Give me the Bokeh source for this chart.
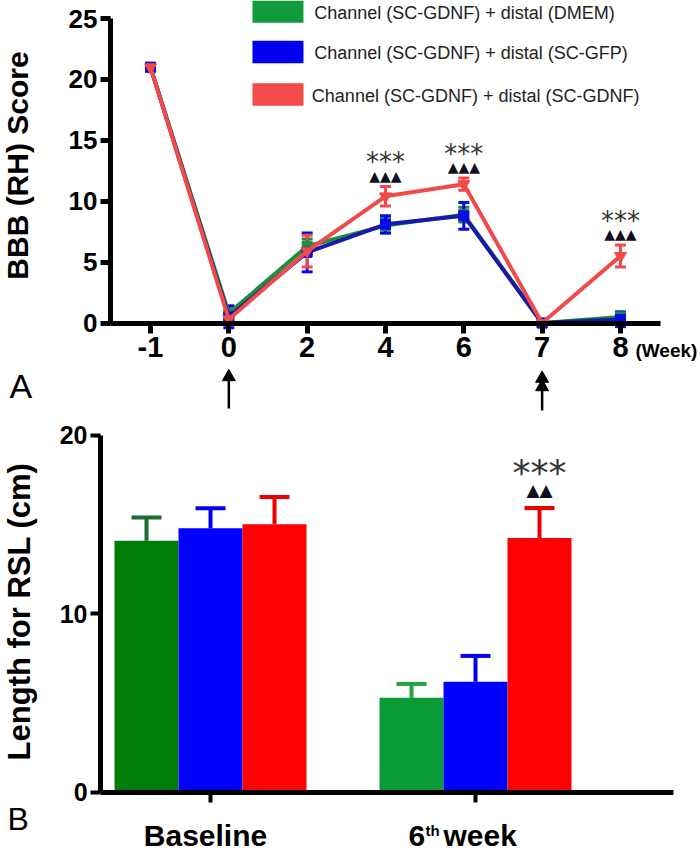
import math
from bokeh.plotting import figure
from bokeh.models import Range1d, FixedTicker, ColumnDataSource, Whisker, TeeHead
from bokeh.layouts import column
from bokeh.embed import file_html
from bokeh.resources import INLINE
from bokeh.core.properties import value

# ---------------- data: panel A (BBB score) ----------------
weeks = ["-1", "0", "2", "4", "6", "7", "8"]
green_mean = [21.0, 0.8, 6.3, 8.0, 8.9, 0.0, 0.5]
green_err = [0.0, 0.6, 0.6, 0.6, 0.6, 0.0, 0.4]
blue_mean = [21.0, 0.5, 5.8, 8.1, 8.8, 0.0, 0.3]
blue_err = [0.0, 0.9, 1.6, 0.7, 1.1, 0.0, 0.6]
red_mean = [21.0, 0.3, 5.9, 10.4, 11.4, 0.0, 5.5]
red_err = [0.0, 0.2, 1.3, 0.8, 0.5, 0.0, 0.9]
sig_weeks = ["4", "6", "8"]
legend_labels = ["Channel (SC-GDNF) + distal (DMEM)",
                 "Channel (SC-GDNF) + distal (SC-GFP)",
                 "Channel (SC-GDNF) + distal (SC-GDNF)"]
arrow_weeks = ["0", "7"]

# ---------------- data: panel B (RSL length) ----------------
groups = ["Baseline", "6th week"]
rsl_green = [14.1, 5.3]
rsl_green_err = [1.3, 0.78]
rsl_blue = [14.8, 6.2]
rsl_blue_err = [1.12, 1.45]
rsl_red = [15.03, 14.25]
rsl_red_err = [1.52, 1.68]

GREEN = "#1f8f3f"
BLUE_LINE = "#1a1aa8"
BLUE = "#0a0ae6"
RED = "#f04a4a"
FONT = "Liberation Sans"
W = 700


def style_axis(a, tick_w, label_size, standoff):
    a.axis_line_width = 5
    a.axis_line_color = "black"
    a.major_tick_line_width = tick_w
    a.major_tick_out = 10
    a.major_tick_in = 0
    a.minor_tick_out = 0
    a.minor_tick_in = 0
    a.major_label_text_font = FONT
    a.major_label_text_font_style = "bold"
    a.major_label_text_color = "black"
    a.major_label_text_font_size = label_size
    a.major_label_standoff = standoff


# =============== Panel A ===============
top = figure(width=W, height=416, output_backend="svg", toolbar_location=None,
             x_range=Range1d(-1.915, 7.022), y_range=Range1d(-7.677, 26.48),
             min_border=0)
top.outline_line_color = None
top.grid.visible = False

xs = list(range(len(weeks)))


def add_series(p, mean, err, line_color, mcolor, marker, msize):
    src = ColumnDataSource(dict(x=xs, y=mean,
                                lo=[m - e for m, e in zip(mean, err)],
                                hi=[m + e for m, e in zip(mean, err)]))
    p.line("x", "y", source=src, line_color=line_color, line_width=4)
    p.add_layout(Whisker(source=src, base="x", upper="hi", lower="lo",
                         line_color=mcolor, line_width=3,
                         upper_head=TeeHead(size=11, line_color=mcolor, line_width=3),
                         lower_head=TeeHead(size=11, line_color=mcolor, line_width=3)))
    p.scatter("x", "y", source=src, marker=marker, size=msize,
              fill_color=mcolor, line_color=mcolor)


add_series(top, green_mean, green_err, GREEN, GREEN, "square", 10)
add_series(top, blue_mean, blue_err, BLUE_LINE, BLUE, "square", 10)
add_series(top, red_mean, red_err, RED, RED, "inverted_triangle", 12)

# significance marks above the red series
si = [weeks.index(w) for w in sig_weeks]
top.text(x=si, y=[red_mean[i] + red_err[i] + 2.0 for i in si], text=["***"] * len(si),
         text_font=value("DejaVu Sans"), text_font_size="26px", text_align="center",
         text_baseline="middle", text_color="#333333")
top.text(x=si, y=[red_mean[i] + red_err[i] + 0.9 for i in si], text=["▲▲▲"] * len(si),
         text_font=value("DejaVu Sans"), text_font_size="14px", text_align="center",
         text_baseline="middle", text_color="#111122")

# legend (boxes + labels)
leg_colors = ["#109b3c", "#0000ee", "#f44a4a"]
leg_y = [25.57, 22.25, 18.76]
top.quad(left=[1.302] * 3, right=[1.953] * 3,
         top=[y + 0.92 for y in leg_y], bottom=[y - 0.92 for y in leg_y],
         fill_color=leg_colors, line_color=None)
top.text(x=[2.09, 2.09, 2.06], y=[y - 0.12 for y in leg_y], text=legend_labels,
         text_font=value(FONT), text_font_size="18px", text_baseline="middle",
         text_color="#222222")

ax = top.xaxis[0]
ax.fixed_location = 0
ax.bounds = (-0.511, 6.511)
ax.ticker = FixedTicker(ticks=xs)
ax.major_label_overrides = {i: w for i, w in enumerate(weeks)}
style_axis(ax, 5, "29px", 4)
ay = top.yaxis[0]
ay.fixed_location = -0.511
ay.bounds = (0, 25)
ay.ticker = FixedTicker(ticks=[0, 5, 10, 15, 20, 25])
style_axis(ay, 5, "26px", 3)

# axis title, unit note, panel letter
top.text(x=[-1.698], y=[12.93], text=["BBB (RH) Score"], angle=math.pi / 2,
         text_font=value(FONT), text_font_style="bold", text_font_size="30px",
         text_align="center", text_baseline="middle", text_color="black")
top.text(x=[len(weeks) - 1], y=[-2.26], x_offset=15, text=["(Week)"],
         text_font=value(FONT), text_font_style="bold", text_font_size="19px",
         text_align="left", text_baseline="middle", text_color="black")
top.text(x=[-1.8], y=[-5.17], text=["A"], text_font=value(FONT), text_font_size="34px",
         text_align="left", text_baseline="middle", text_color="black")

# treatment arrows
ai = [weeks.index(w) for w in arrow_weeks]
top.segment(x0=ai, y0=[-7.02, -7.18], x1=ai, y1=[-4.6, -4.9],
            line_color="black", line_width=2.5)
top.scatter(x=[ai[0], ai[1], ai[1]], y=[-4.43, -4.56, -5.25], marker="triangle",
            size=13, fill_color="black", line_color="black")

# =============== Panel B ===============
bot = figure(width=W, height=437, output_backend="svg", toolbar_location=None,
             x_range=Range1d(-0.7925, 1.849), y_range=Range1d(-3.417, 21.06),
             min_border=0)
bot.outline_line_color = None
bot.grid.visible = False

gx = list(range(len(groups)))
BW = 0.2415
series = [
    (rsl_green, rsl_green_err, -BW, ["#007c0a", "#0a9a36"], ["#1f6b34", "#20a640"]),
    (rsl_blue, rsl_blue_err, 0.0, ["#0000ff", "#0000ff"], ["#0000ee", "#0000ee"]),
    (rsl_red, rsl_red_err, BW, ["#ff0000", "#ff0000"], ["#ee0000", "#ee0000"]),
]
for vals, errs, off, fcols, ecols in series:
    bx = [g + off for g in gx]
    bot.vbar(x=bx, top=vals, width=BW, fill_color=fcols, line_color=None)
    for xx, v, e, ec in zip(bx, vals, errs, ecols):
        s = ColumnDataSource(dict(x=[xx], lo=[v], hi=[v + e]))
        bot.add_layout(Whisker(source=s, base="x", upper="hi", lower="lo",
                               line_color=ec, line_width=4, lower_head=None,
                               upper_head=TeeHead(size=30, line_color=ec, line_width=4)))

rx = gx[1] + BW
bot.text(x=[rx], y=[rsl_red[1] + rsl_red_err[1] + 2.0], text=["***"],
         text_font=value("DejaVu Sans"), text_font_size="36px", text_align="center",
         text_baseline="middle", text_color="#333333")
bot.text(x=[rx], y=[rsl_red[1] + rsl_red_err[1] + 1.0], text=["▲▲"],
         text_font=value("DejaVu Sans"), text_font_size="17px", text_align="center",
         text_baseline="middle", text_color="#111122")

bx_ax = bot.xaxis[0]
bx_ax.fixed_location = 0
bx_ax.bounds = (-0.415, 1.747)
bx_ax.ticker = FixedTicker(ticks=gx)
bx_ax.major_label_overrides = {i: "" for i in gx}
style_axis(bx_ax, 4, "25px", 3)
by_ax = bot.yaxis[0]
by_ax.fixed_location = -0.415
by_ax.bounds = (0, 20)
by_ax.ticker = FixedTicker(ticks=[0, 10, 20])
style_axis(by_ax, 4, "25px", 3)

bot.text(x=[-0.7226], y=[10.14], text=["Length for RSL (cm)"], angle=math.pi / 2,
         text_font=value(FONT), text_font_style="bold", text_font_size="31px",
         text_align="center", text_baseline="middle", text_color="black")
# group labels under the axis
bot.text(x=[gx[0]], y=[-2.42], x_offset=-5, text=[groups[0]],
         text_font=value(FONT), text_font_style="bold", text_font_size="30px",
         text_align="center", text_baseline="middle", text_color="black")
bot.text(x=[gx[1], gx[1]], y=[-2.42, -2.42], x_offset=[-67, -32], text=["6", "week"],
         text_font=value(FONT), text_font_style="bold", text_font_size="30px",
         text_align="left", text_baseline="middle", text_color="black")
bot.text(x=[gx[1]], y=[-2.12], x_offset=-50, text=["th"],
         text_font=value(FONT), text_font_style="bold", text_font_size="15px",
         text_align="left", text_baseline="middle", text_color="black")
bot.text(x=[-0.766], y=[-1.485], text=["B"], text_font=value(FONT), text_font_size="32px",
         text_align="left", text_baseline="middle", text_color="black")

layout = column(top, bot)
open("out.html", "w").write(file_html(layout, INLINE))
